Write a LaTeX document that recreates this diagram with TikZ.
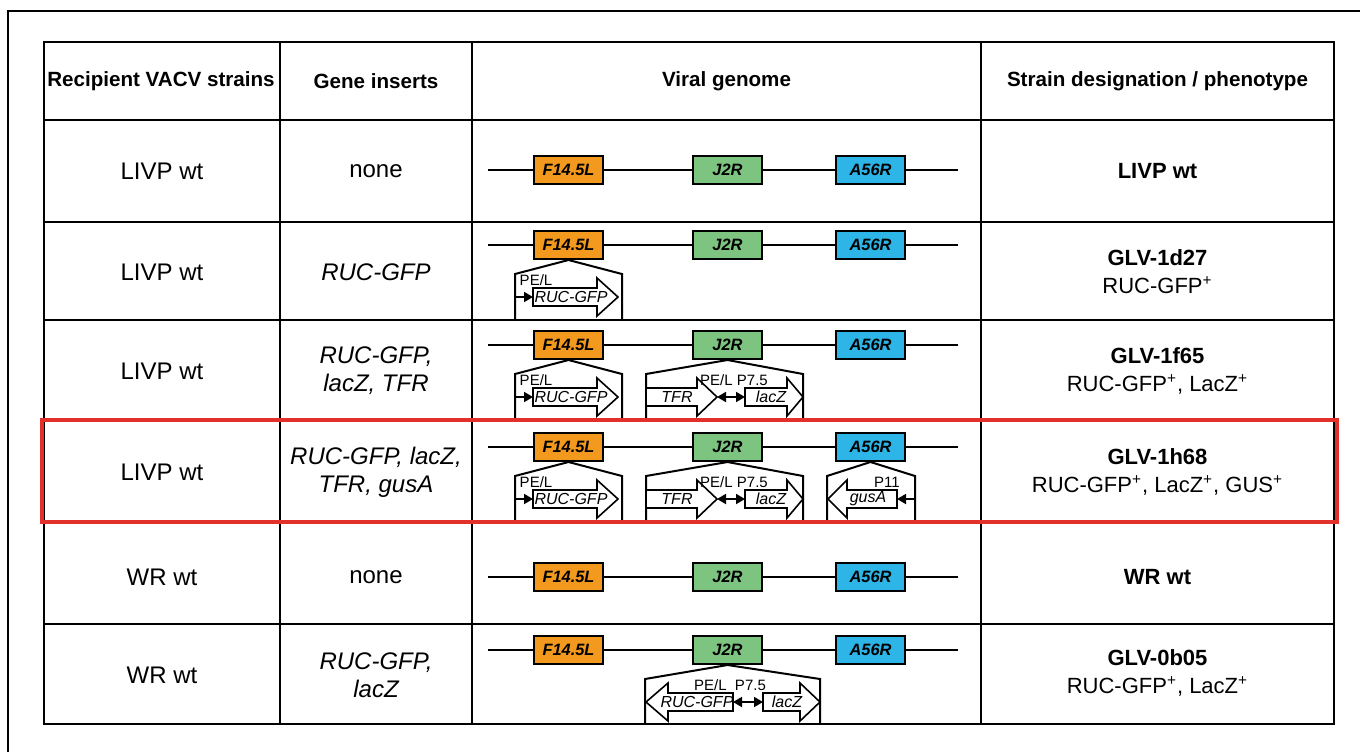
\documentclass[tikz,border=0pt]{standalone}
\usepackage{fontspec}
\setmainfont{Liberation Sans}
\usetikzlibrary{arrows.meta}
\definecolor{geneF}{HTML}{F39A1E}
\definecolor{geneJ}{HTML}{7CC47F}
\definecolor{geneA}{HTML}{2CB5E6}
\definecolor{hl}{HTML}{E2302B}
\tikzset{
  tbl/.style={line width=1.3pt},
  gline/.style={line width=1.3pt},
  genebox/.style={draw, line width=1pt, minimum width=34.5pt, minimum height=14pt, inner sep=0pt, font=\fontsize{8.2}{9}\selectfont\bfseries\itshape},
  ins/.style={line width=1pt, line join=miter},
  blk/.style={draw, line width=0.8pt, fill=white, line join=miter},
  prom/.style={line width=0.9pt, -{Triangle[length=4.5pt,width=5pt]}},
  dprom/.style={line width=0.9pt, {Triangle[length=4.5pt,width=5pt]}-{Triangle[length=4.5pt,width=5pt]}},
  headtxt/.style={font=\fontsize{10.3}{12}\selectfont\bfseries, align=center, inner sep=0pt},
  celltxt/.style={font=\fontsize{12}{14}\selectfont, align=center, inner sep=0pt},
  celltxti/.style={font=\fontsize{12}{14}\selectfont\itshape, align=center, inner sep=0pt},
  straintxt/.style={font=\fontsize{11}{14}\selectfont, align=center, inner sep=0pt},
  gtxt/.style={font=\fontsize{8}{9}\selectfont\itshape, inner sep=0pt},
  ptxt/.style={font=\fontsize{7.5}{8}\selectfont, inner sep=0pt},
}
% genome line with three genes: #1 prefix, #2 y
\newcommand\genomeat[2]{%
  \coordinate (#1s) at (488,#2);
  \coordinate (#1e) at (958,#2);
  \node[genebox, fill=geneF] (#1F) at (568.5,#2) {F14.5L};
  \node[genebox, fill=geneJ] (#1J) at (727.5,#2) {J2R};
  \node[genebox, fill=geneA] (#1A) at (870.5,#2) {A56R};
  \draw[gline] (#1s) -- (#1F.west) (#1F.east) -- (#1J.west) (#1J.east) -- (#1A.west) (#1A.east) -- (#1e);
}
% block arrow: #1 body end, #2 head base, #3 tip, #4 y centre
\newcommand\blockarrow[4]{%
  \draw[blk] (#1,#4-9) -- (#2,#4-9) -- (#2,#4-19) -- (#3,#4) -- (#2,#4+19) -- (#2,#4+9) -- (#1,#4+9) -- cycle;
}
% insertion outline: #1 gene node, #2 left x, #3 right x, #4 shoulder y, #5 bottom y
\newcommand\insertion[5]{%
  \draw[ins] (#2,#5) -- (#2,#4) -- (#1.south) -- (#3,#4) -- (#3,#5);
}
% RUC-GFP cassette under F14.5L: #1 prefix, #2 y centre, #3 shoulder y, #4 bottom y
\newcommand\rucF[4]{%
  \insertion{#1F}{515}{622}{#3}{#4}
  \blockarrow{533}{597}{618}{#2}
  \node[gtxt] (#1rg) at (571,#2) {RUC-GFP};
  \node[ptxt] (#1pel) at (536,#2-17) {PE/L};
  \coordinate (#1pa) at (515,#2);
  \coordinate (#1pb) at (533,#2);
  \draw[prom] (#1pa) -- (#1pb);
}
% TFR / lacZ cassette under J2R
\newcommand\tfrJ[4]{%
  \insertion{#1J}{646}{803}{#3}{#4}
  \blockarrow{646}{697}{717}{#2}
  \blockarrow{745}{787}{803}{#2}
  \node[gtxt] (#1tfr) at (677,#2) {TFR};
  \node[gtxt] (#1lz) at (771,#2) {lacZ};
  \node[ptxt] (#1pp) at (734,#2-17) {PE/L P7.5};
  \coordinate (#1da) at (717,#2);
  \coordinate (#1db) at (745,#2);
  \draw[dprom] (#1da) -- (#1db);
}
\begin{document}
\begin{tikzpicture}[x=0.5pt, y=-0.5pt]
\useasboundingbox (0,0) rectangle (1360,752);
% outer frame (left and top)
\draw[line width=0.6pt] (8,752) -- (8,11) -- (1360,11);
% table
\draw[tbl] (44,42) rectangle (1334,724);
\foreach \yy in {120,222,320,420,522,624} \draw[tbl] (44,\yy) -- (1334,\yy);
\foreach \xx in {280,472,981} \draw[tbl] (\xx,42) -- (\xx,724);

% header
\node[headtxt] (h1) at (161,81) {Recipient VACV strains};
\node[headtxt] (h2) at (376,81) {Gene inserts};
\node[headtxt] (h3) at (726.5,81) {Viral genome};
\node[headtxt] (h4) at (1157.5,81) {Strain designation / phenotype};

% column 1
\node[celltxt] (a1) at (162,171) {LIVP wt};
\node[celltxt] (a2) at (162,272) {LIVP wt};
\node[celltxt] (a3) at (162,371) {LIVP wt};
\node[celltxt] (a4) at (162,472) {LIVP wt};
\node[celltxt] (a5) at (162,577) {WR wt};
\node[celltxt] (a6) at (162,675) {WR wt};

% column 2
\node[celltxt] (b1) at (376,171) {none};
\node[celltxti] (b2) at (376,272) {RUC-GFP};
\node[celltxti] (b3) at (376,371) {RUC-GFP,\\lacZ, TFR};
\node[celltxti] (b4) at (376,472) {RUC-GFP, lacZ,\\TFR, gusA};
\node[celltxt] (b5) at (376,577) {none};
\node[celltxti] (b6) at (376,675) {RUC-GFP,\\lacZ};

% column 4
\node[straintxt] (d1) at (1157.5,171) {\bfseries LIVP wt};
\node[straintxt] (d2) at (1157.5,272) {{\bfseries GLV-1d27}\\RUC-GFP\textsuperscript{+}};
\node[straintxt] (d3) at (1157.5,371) {{\bfseries GLV-1f65}\\RUC-GFP\textsuperscript{+}, LacZ\textsuperscript{+}};
\node[straintxt] (d4) at (1157.5,472) {{\bfseries GLV-1h68}\\RUC-GFP\textsuperscript{+}, LacZ\textsuperscript{+}, GUS\textsuperscript{+}};
\node[straintxt] (d5) at (1157.5,577) {\bfseries WR wt};
\node[straintxt] (d6) at (1157.5,673) {{\bfseries GLV-0b05}\\RUC-GFP\textsuperscript{+}, LacZ\textsuperscript{+}};

% genomes
\genomeat{r1}{170}
\genomeat{r2}{245}
\genomeat{r3}{345}
\genomeat{r4}{447}
\genomeat{r5}{577}
\genomeat{r6}{650}

% row 2
\rucF{r2}{297}{274}{320}
% row 3
\rucF{r3}{397}{374}{420}
\tfrJ{r3}{397}{374}{420}
% row 4
\rucF{r4}{499}{476}{522}
\tfrJ{r4}{499}{476}{522}
\insertion{r4A}{827}{915}{476}{522}
\blockarrow{897}{847}{828}{499}
\node[gtxt] (r4gus) at (868,499) {gusA};
\node[ptxt] (r4p11) at (887,482) {P11};
\coordinate (r4qa) at (915,499);
\coordinate (r4qb) at (897,499);
\draw[prom] (r4qa) -- (r4qb);
% row 6
\insertion{r6J}{645}{820}{679}{724}
\blockarrow{733}{668}{646}{702}
\blockarrow{763}{800}{820}{702}
\node[gtxt] (r6rg) at (697,702) {RUC-GFP};
\node[gtxt] (r6lz) at (787,702) {lacZ};
\node[ptxt] (r6pp) at (730,685) {PE/L\ \ P7.5};
\coordinate (r6da) at (733,702);
\coordinate (r6db) at (763,702);
\draw[dprom] (r6da) -- (r6db);

% highlight
\draw[hl, line width=1.8pt] (42,420) rectangle (1337,522);
\end{tikzpicture}
\end{document}
